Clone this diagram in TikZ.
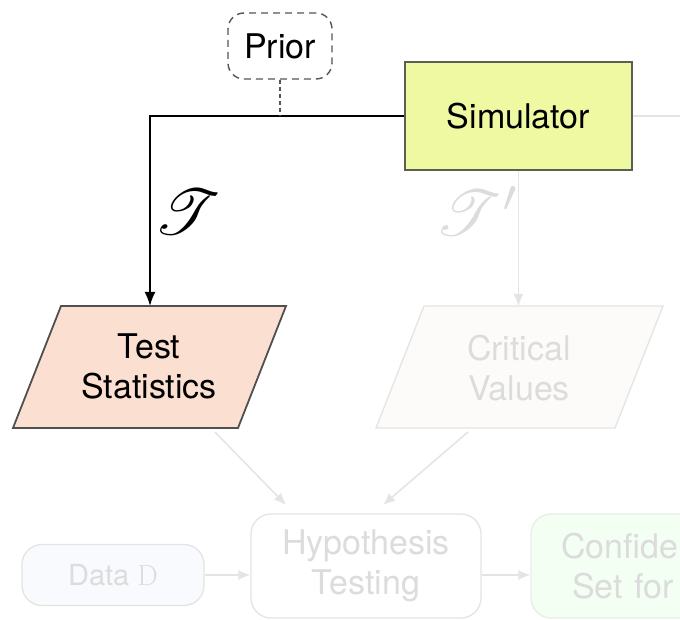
\documentclass[tikz,border=0pt]{standalone}
\usepackage{fontspec}
\setsansfont{TeX Gyre Heros}
\usepackage{mathrsfs}
\usetikzlibrary{arrows.meta}
\definecolor{simfill}{HTML}{EEF9A2}
\definecolor{simborder}{HTML}{5C6050}
\definecolor{tsfill}{HTML}{FBE0D2}
\definecolor{tsborder}{HTML}{505050}
\definecolor{priorborder}{HTML}{555555}
\definecolor{fadeline}{HTML}{E4E4E4}
\definecolor{fadetext}{HTML}{DCDCDC}
\definecolor{cvfill}{HTML}{FCFBF9}
\definecolor{datafill}{HTML}{F9FAFD}
\definecolor{conffill}{HTML}{F3FFF3}
\definecolor{confborder}{HTML}{E6EFE6}
\begin{document}
\begin{tikzpicture}[x=1pt,y=-1pt,
  base/.style={font=\sffamily\fontsize{34}{40}\selectfont, align=center, inner sep=0pt},
  mainline/.style={draw=black, line width=1.8pt},
  fadedline/.style={draw=fadeline, line width=1.5pt},
  mainarrow/.style={-{Latex[length=14pt,width=11pt]}},
  fadedarrow/.style={-{Latex[length=12pt,width=10pt]}},
  fadedbox/.style={base, text=fadetext, draw=fadeline, line width=1.3pt, rounded corners=20pt}
]
\useasboundingbox (0,0) rectangle (680,620);
\clip (0,0) rectangle (680,620);
\fill[white] (0,0) rectangle (680,620);

% Prior
\node[base, draw=priorborder, dash pattern=on 7pt off 5pt, line width=1.4pt,
      rounded corners=16pt, minimum width=104pt, minimum height=66pt] (prior) at (280,46) {Prior};

% Simulator
\node[base, draw=simborder, fill=simfill, line width=1.8pt,
      minimum width=227pt, minimum height=108pt] (sim) at (518.5,116) {Simulator};

% Test Statistics parallelogram
\draw[draw=tsborder, fill=tsfill, line width=1.8pt]
  (61,306) -- (286,306) -- (238,428) -- (13,428) -- cycle;
\node[base] (ts) at (149,366) {Test\\Statistics};
\coordinate (tsT) at (150,306);
\coordinate (tsB) at (215,432);

% Critical Values parallelogram (faded)
\draw[draw=fadeline, fill=cvfill, line width=1.3pt]
  (424,306) -- (663,306) -- (615,428) -- (376,428) -- cycle;
\node[base, text=fadetext] (cv) at (519,368) {Critical\\Values};
\coordinate (cvT) at (518.5,306);
\coordinate (cvB) at (468,432);

% Bottom row (faded)
\node[fadedbox, fill=white, minimum width=230pt, minimum height=104pt] (hyp) at (366,566) {Hypothesis\\Testing};
\node[fadedbox, fill=datafill, font=\sffamily\fontsize{29}{34}\selectfont,
      minimum width=182pt, minimum height=61pt] (data) at (113,575) {Data \textrm{D}};
\node[fadedbox, fill=conffill, draw=confborder, minimum width=230pt, minimum height=104pt,
      text width=170pt, align=left] (conf) at (646,566) {Confidence\\\hspace*{11pt}Set for};

\coordinate (hypTL) at (286,505);
\coordinate (hypTR) at (383,505);
\coordinate (rightend) at (700,116);

% Connectors
\draw[mainline, mainarrow] (sim.west) -| (tsT);
\draw[draw=priorborder, line width=1.5pt, dash pattern=on 4pt off 3pt] (prior.south) -- (prior.south |- sim.west);

\draw[fadedline, fadedarrow] (sim.south) -- (cvT);
\draw[fadedline] (sim.east) -- (rightend);
\draw[fadedline, fadedarrow] (tsB) -- (hypTL);
\draw[fadedline, fadedarrow] (cvB) -- (hypTR);
\draw[fadedline, fadedarrow] (data.east) -- (data.east -| hyp.west);
\draw[fadedline, fadedarrow] (data.east -| hyp.east) -- (data.east -| conf.west);

% Labels
\node[scale=6.4, inner sep=0pt] (tlabel) at (188,212) {$\mathscr{T}$};
\node[scale=6.4, inner sep=0pt, text=fadetext] (tplabel) at (478,211) {$\mathscr{T}'$};
\end{tikzpicture}
\end{document}
